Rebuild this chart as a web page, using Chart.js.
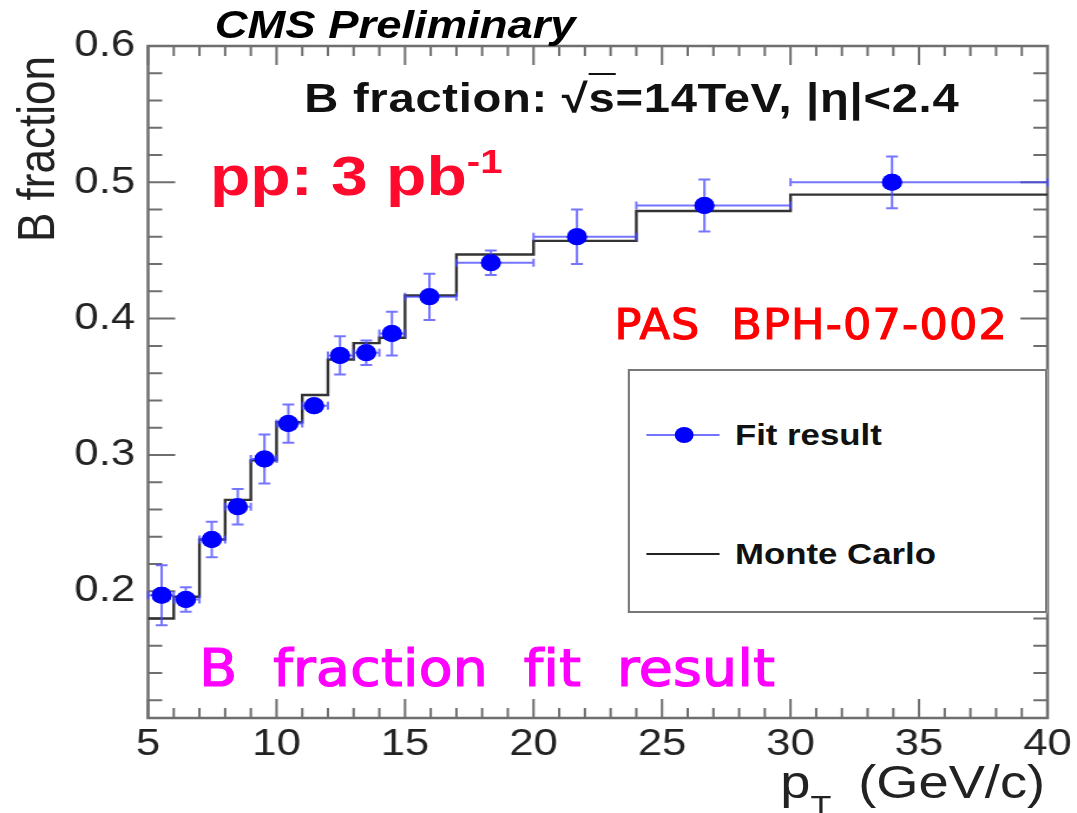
<!DOCTYPE html>
<html>
<head>
<meta charset="utf-8">
<script src="https://cdn.jsdelivr.net/npm/chart.js@4.4.1/dist/chart.umd.min.js"></script>
<style>
  html, body { margin: 0; padding: 0; background: #fff; overflow: hidden; }
  body { width: 1077px; height: 813px; position: relative; }
  #stage {
    position: absolute; left: 0; top: 0; width: 913px; height: 813px;
    transform: scaleX(1.1796); transform-origin: 0 0;
    font-family: 'Liberation Sans', Arial, Helvetica, sans-serif;
  }
  #stage canvas { position: absolute; left: 0; top: 0; }
  .txt { position: absolute; white-space: nowrap; line-height: 1; }
  .comic { font-family: 'Comic Sans MS', 'DejaVu Sans Condensed', 'DejaVu Sans', sans-serif; }
  #legend {
    position: absolute; left: 532px; top: 369px; width: 352px; height: 240px;
    border: 2px solid #777; background: #fff;
  }
  .legLine { position: absolute; left: 14px; width: 62px; }
</style>
</head>
<body>
<div id="stage">
  <canvas id="chart" width="913" height="813"></canvas>

  <div class="txt" style="left:182px; top:6px; font-size:38.5px; font-weight:bold; font-style:italic; color:#000;">CMS Preliminary</div>
  <div class="txt" style="left:258px; top:78px; font-size:40px; font-weight:bold; color:#111; letter-spacing:0.6px;">B fraction: &radic;<span style="border-top:2px solid #111; padding-top:1px;">s</span>=14TeV, |&eta;|&lt;2.4</div>
  <div class="txt" style="left:178px; top:148px; font-size:56px; font-weight:bold; color:#ff0a2d;">pp: 3 pb<span style="font-size:34px; position:relative; top:-22px;">-1</span></div>
  <div class="txt comic" style="left:521px; top:304px; font-size:42px; color:#ff0000; -webkit-text-stroke:1px #ff0000; letter-spacing:1px;">PAS&nbsp; BPH-07-002</div>
  <div class="txt comic" style="left:169px; top:642px; font-size:52px; color:#ff00ff; -webkit-text-stroke:1.2px #ff00ff; letter-spacing:0.3px;">B&nbsp; fraction&nbsp; fit&nbsp; result</div>

  <div class="txt" id="ytitle" style="left:0; top:0; font-size:44px; color:#222; transform-origin:0 0; transform: translate(9px, 242px) rotate(-90deg);">B fraction</div>
  <div class="txt" style="right:27px; top:759px; font-size:46px; color:#222;">p<span style="font-size:29px; position:relative; top:18px; margin-right:10px;">T</span> (GeV/c)</div>

  <div id="legend">
    <div class="legLine" style="top:63px; height:2px; background:rgba(70,70,255,0.75);"></div>
    <div style="position:absolute; left:38px; top:56px; width:16px; height:16px; border-radius:50%; background:#0000ff;"></div>
    <div class="txt" style="left:89px; top:49px; font-size:29.5px; font-weight:bold; color:#111;">Fit result</div>
    <div class="legLine" style="top:182px; height:1.5px; background:#222;"></div>
    <div class="txt" style="left:89px; top:168px; font-size:29.5px; font-weight:bold; color:#111;">Monte Carlo</div>
  </div>
</div>

<script>
// bin edges of pT (GeV/c)
const binEdges = [5, 6, 7, 8, 9, 10, 11, 12, 13, 14, 15, 17, 20, 24, 30, 40];
// fit result: mean pT in bin, B fraction, error
const fitPt = [5.53, 6.47, 7.48, 8.49, 9.53, 10.46, 11.46, 12.47, 13.49, 14.49, 15.95, 18.34, 21.69, 26.65, 33.95];
const fitVal = [0.197, 0.194, 0.238, 0.262, 0.297, 0.323, 0.336, 0.373, 0.375, 0.389, 0.416, 0.441, 0.460, 0.483, 0.500];
const fitErr = [0.022, 0.009, 0.013, 0.013, 0.018, 0.014, 0.003, 0.014, 0.009, 0.016, 0.017, 0.009, 0.020, 0.019, 0.019];
// Monte Carlo histogram content per bin
const mcVal = [0.180, 0.196, 0.238, 0.267, 0.296, 0.324, 0.344, 0.370, 0.382, 0.386, 0.417, 0.447, 0.457, 0.479, 0.491];

const xTickValues = [5, 10, 15, 20, 25, 30, 35, 40];
const yTickValues = [0.2, 0.3, 0.4, 0.5, 0.6];

const tickFont = { family: "'Liberation Sans', Arial, sans-serif", size: 37 };

// frame with ROOT style ticks inside, on all four sides
const axisFrame = {
  id: 'axisFrame',
  beforeDatasetsDraw(chart) {
    const { ctx, chartArea: a, scales: { x, y } } = chart;
    ctx.save();
    ctx.strokeStyle = '#6e6e6e';
    ctx.lineWidth = 2;
    ctx.beginPath();
    for (let v = 5; v <= 40; v++) {
      const px = x.getPixelForValue(v);
      const len = v % 5 === 0 ? 19 : 10;
      ctx.moveTo(px, a.bottom); ctx.lineTo(px, a.bottom - len);
      ctx.moveTo(px, a.top); ctx.lineTo(px, a.top + len);
    }
    for (let k = 6; k <= 30; k++) {
      const py = y.getPixelForValue(k / 50);
      const len = k % 5 === 0 ? 23 : 12;
      ctx.moveTo(a.left, py); ctx.lineTo(a.left + len, py);
      ctx.moveTo(a.right, py); ctx.lineTo(a.right - len, py);
    }
    ctx.stroke();
    ctx.lineWidth = 2.5;
    ctx.strokeRect(a.left, a.top, a.right - a.left, a.bottom - a.top);
    ctx.restore();
  }
};

// error bars: vertical = fit error, horizontal = bin width
const errorBars = {
  id: 'errorBars',
  afterDatasetsDraw(chart) {
    const { ctx, scales: { x, y } } = chart;
    ctx.save();
    ctx.strokeStyle = 'rgba(70,70,255,0.75)';
    ctx.lineWidth = 2;
    ctx.beginPath();
    fitVal.forEach((val, i) => {
      const px = x.getPixelForValue(fitPt[i]);
      const py = y.getPixelForValue(val);
      const yHi = y.getPixelForValue(val + fitErr[i]);
      const yLo = y.getPixelForValue(val - fitErr[i]);
      const xLo = x.getPixelForValue(binEdges[i]);
      const xHi = x.getPixelForValue(binEdges[i + 1]);
      ctx.moveTo(px, yHi); ctx.lineTo(px, yLo);
      ctx.moveTo(px - 5, yHi); ctx.lineTo(px + 5, yHi);
      ctx.moveTo(px - 5, yLo); ctx.lineTo(px + 5, yLo);
      ctx.moveTo(xLo, py); ctx.lineTo(xHi, py);
      ctx.moveTo(xLo, py - 4); ctx.lineTo(xLo, py + 4);
      ctx.moveTo(xHi, py - 4); ctx.lineTo(xHi, py + 4);
    });
    ctx.stroke();
    ctx.restore();
    // markers on top of the bars
    chart.getDatasetMeta(0).controller.draw();
  }
};

const mcPoints = binEdges.map((e, i) => ({ x: e, y: mcVal[Math.min(i, mcVal.length - 1)] }));
const fitPoints = fitPt.map((p, i) => ({ x: p, y: fitVal[i] }));

new Chart(document.getElementById('chart'), {
  type: 'scatter',
  data: {
    datasets: [
      {
        label: 'Fit result',
        data: fitPoints,
        pointRadius: 8.5,
        pointBackgroundColor: '#0000ff',
        pointBorderWidth: 0,
        showLine: false,
        order: 0
      },
      {
        type: 'line',
        label: 'Monte Carlo',
        data: mcPoints,
        stepped: 'before',
        borderColor: '#333',
        borderWidth: 2.4,
        pointRadius: 0,
        fill: false,
        order: 1
      }
    ]
  },
  options: {
    responsive: false,
    devicePixelRatio: 1,
    animation: false,
    layout: { padding: { top: 46, right: 25, left: 0, bottom: 0 } },
    plugins: { legend: { display: false }, tooltip: { enabled: false } },
    scales: {
      x: {
        type: 'linear', min: 5, max: 40,
        grid: { display: false }, border: { display: false },
        afterFit: s => { s.height = 95; },
        afterBuildTicks: s => { s.ticks = xTickValues.map(v => ({ value: v })); },
        ticks: { font: tickFont, color: '#222', padding: -3, maxRotation: 0, autoSkip: false }
      },
      y: {
        type: 'linear', min: 0.107, max: 0.6,
        grid: { display: false }, border: { display: false },
        afterFit: s => { s.width = 125.5; },
        afterBuildTicks: s => { s.ticks = yTickValues.map(v => ({ value: v })); },
        ticks: { font: tickFont, color: '#222', padding: 3, autoSkip: false, callback: v => v.toFixed(1) }
      }
    }
  },
  plugins: [axisFrame, errorBars]
});
</script>
</body>
</html>
